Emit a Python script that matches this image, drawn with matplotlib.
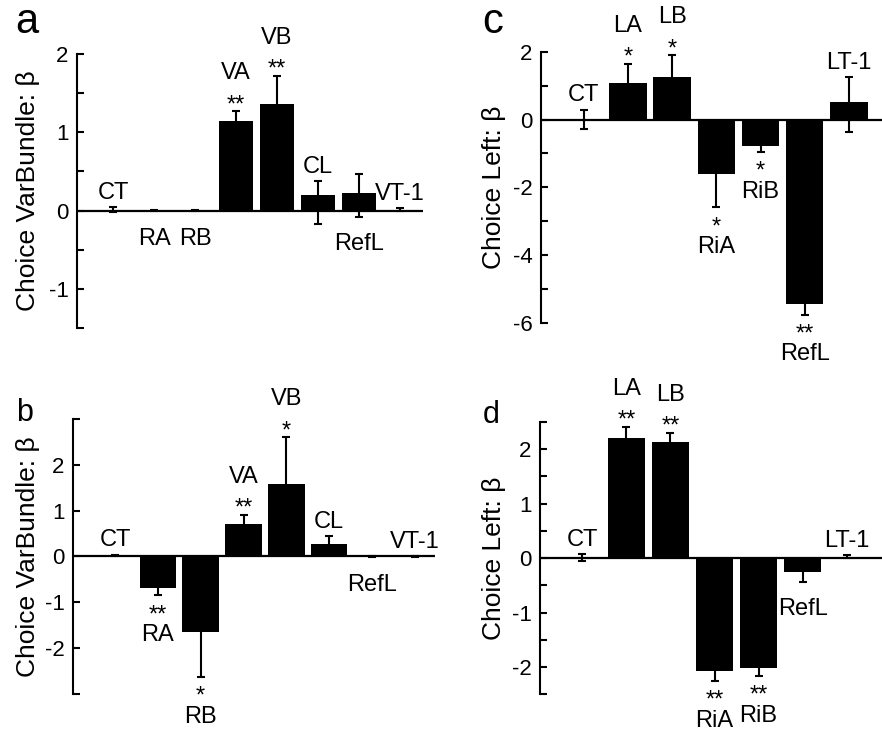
import matplotlib
matplotlib.use("Agg")
import matplotlib.pyplot as plt
import numpy as np

plt.rcParams["font.family"] = ["Liberation Sans", "DejaVu Sans"]
plt.rcParams["axes.unicode_minus"] = False

# a: choice of the variable bundle, first set of regressors
a_names = ["CT", "RA", "RB", "VA", "VB", "CL", "RefL", "VT-1"]
a_beta = [0.01, 0.0, 0.0, 1.15, 1.36, 0.20, 0.23, 0.01]
a_err_lo = [0.03, 0.01, 0.01, 0.12, 0.36, 0.37, 0.31, 0.02]
a_err_hi = [0.03, 0.01, 0.01, 0.12, 0.36, 0.18, 0.24, 0.02]
a_stars = ["", "", "", "**", "**", "", "", ""]
a_below = [False, True, True, False, False, False, True, False]

# b: choice of the variable bundle, second set
b_names = ["CT", "RA", "RB", "VA", "VB", "CL", "RefL", "VT-1"]
b_beta = [0.02, -0.68, -1.65, 0.72, 1.59, 0.27, 0.0, -0.01]
b_err_lo = [0.02, 0.17, 0.98, 0.19, 1.02, 0.18, 0.02, 0.01]
b_err_hi = [0.02, 0.17, 0.98, 0.19, 1.02, 0.18, 0.02, 0.01]
b_stars = ["", "**", "*", "**", "*", "", "", ""]
b_below = [False, True, True, False, False, False, True, False]

# c: choice of the left option, first set
c_names = ["CT", "LA", "LB", "RiA", "RiB", "RefL", "LT-1"]
c_beta = [0.0, 1.07, 1.25, -1.61, -0.77, -5.45, 0.51]
c_err_lo = [0.29, 0.57, 0.64, 0.98, 0.18, 0.30, 0.87]
c_err_hi = [0.29, 0.57, 0.64, 0.98, 0.18, 0.30, 0.73]
c_stars = ["", "*", "*", "*", "*", "**", ""]
c_below = [False, False, False, True, True, True, False]

# d: choice of the left option, second set
d_names = ["CT", "LA", "LB", "RiA", "RiB", "RefL", "LT-1"]
d_beta = [0.01, 2.21, 2.13, -2.08, -2.01, -0.26, 0.03]
d_err_lo = [0.06, 0.20, 0.17, 0.17, 0.15, 0.17, 0.03]
d_err_hi = [0.06, 0.20, 0.17, 0.17, 0.15, 0.17, 0.03]
d_stars = ["", "**", "**", "**", "**", "", ""]
d_below = [False, False, False, True, True, True, False]

LABEL_SIZE = 17
TICK_SIZE = 16


def draw_panel(ax, names, beta, err_lo, err_hi, stars, below,
               ylim, major, minor, xlim, ylabel, label_x):
    x = np.arange(1, len(names) + 1)
    ax.axhline(0, color="black", lw=1.6, zorder=1)
    ax.bar(x, beta, width=0.85, color="black", zorder=2)
    ax.errorbar(x, beta, yerr=[err_lo, err_hi], fmt="none", ecolor="black",
                elinewidth=1.5, capsize=3, capthick=1.5, zorder=3)

    # bar names with significance stars, stacked away from the bar
    for xi, v, lo, hi, name, star, down in zip(x, beta, err_lo, err_hi,
                                                names, stars, below):
        kw = dict(textcoords="offset points", ha="center", va="baseline",
                  fontsize=LABEL_SIZE, annotation_clip=False)
        if down:
            y = v - lo
            if star:
                ax.annotate(star, (xi, y), xytext=(0, -18.5), **kw)
                ax.annotate(name, (xi, y), xytext=(0, -33), **kw)
            else:
                ax.annotate(name, (xi, y), xytext=(0, -24), **kw)
        else:
            y = v + hi
            if star:
                ax.annotate(star, (xi, y), xytext=(0, 0), **kw)
                ax.annotate(name, (xi, y), xytext=(0, 23), **kw)
            else:
                ax.annotate(name, (xi, y), xytext=(0, 6), **kw)

    ax.set_xlim(*xlim)
    ax.set_ylim(*ylim)
    ax.set_xticks([])
    ax.set_yticks(major)
    ax.set_yticks(minor, minor=True)
    ax.set_yticklabels([f"{t:g}" for t in major])
    ax.tick_params(axis="y", which="both", direction="in", length=5,
                   width=1.5, labelsize=TICK_SIZE, pad=6)
    for side in ["top", "right", "bottom"]:
        ax.spines[side].set_visible(False)
    ax.spines["left"].set_linewidth(1.5)
    ax.set_ylabel(ylabel, fontsize=19, va="center")
    ax.yaxis.set_label_coords(label_x, 0.5)


fig = plt.figure(figsize=(8.82, 7.33), dpi=100)

ax_a = fig.add_axes([0.0873, 0.5525, 0.3923, 0.3738])
ax_b = fig.add_axes([0.0828, 0.0536, 0.4104, 0.3744])
ax_c = fig.add_axes([0.6134, 0.5593, 0.3866, 0.3702])
ax_d = fig.add_axes([0.6122, 0.0528, 0.3878, 0.3715])

draw_panel(ax_a, a_names, a_beta, a_err_lo, a_err_hi, a_stars, a_below,
           (-1.5, 2), [-1, 0, 1, 2], [-1.5, -0.5, 0.5, 1.5],
           (0.12, 8.56), "Choice VarBundle: β", -0.142)
draw_panel(ax_b, b_names, b_beta, b_err_lo, b_err_hi, b_stars, b_below,
           (-3, 3), [-2, -1, 0, 1, 2], [-3, 3],
           (0.02, 8.47), "Choice VarBundle: β", -0.124)
draw_panel(ax_c, c_names, c_beta, c_err_lo, c_err_hi, c_stars, c_below,
           (-6, 2), [-6, -4, -2, 0, 2], [-5, -3, -1, 1],
           (0.03, 7.75), "Choice Left: β", -0.138)
draw_panel(ax_d, d_names, d_beta, d_err_lo, d_err_hi, d_stars, d_below,
           (-2.5, 2.5), [-2, -1, 0, 1, 2], [-2.5, -1.5, -0.5, 0.5, 1.5, 2.5],
           (0.04, 7.8), "Choice Left: β", -0.135)

fig.text(15 / 882, 1 - 33 / 733, "a", fontsize=30, va="baseline")
fig.text(482 / 882, 1 - 33 / 733, "c", fontsize=30, va="baseline")
fig.text(16 / 882, 1 - 421 / 733, "b", fontsize=22, va="baseline")
fig.text(483 / 882, 1 - 423 / 733, "d", fontsize=22, va="baseline")

fig.savefig("out.png", dpi=100)
